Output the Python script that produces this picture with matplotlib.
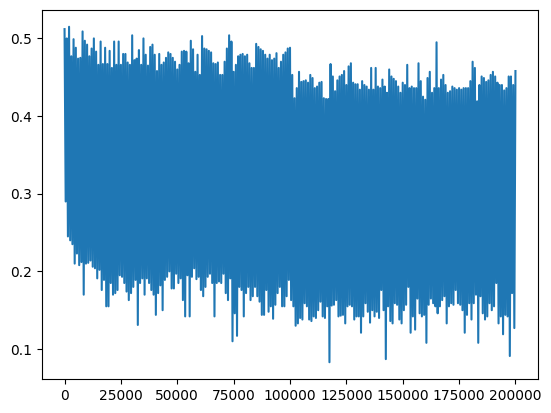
import numpy as np
import matplotlib
matplotlib.use("Agg")
import matplotlib.pyplot as plt

# upper and lower extremes of the noisy series, read every 1000 steps
upper = [
    0.512, 0.500, 0.515, 0.477, 0.499, 0.488, 0.474, 0.475, 0.509, 0.497,
    0.492, 0.477, 0.487, 0.500, 0.483, 0.466, 0.496, 0.467, 0.488, 0.467,
    0.484, 0.462, 0.496, 0.466, 0.496, 0.466, 0.480, 0.480, 0.469, 0.466,
    0.504, 0.472, 0.474, 0.485, 0.466, 0.500, 0.479, 0.465, 0.489, 0.492,
    0.479, 0.458, 0.480, 0.466, 0.469, 0.475, 0.482, 0.480, 0.475, 0.470,
    0.460, 0.466, 0.483, 0.484, 0.483, 0.468, 0.497, 0.486, 0.457, 0.479,
    0.453, 0.503, 0.487, 0.486, 0.484, 0.482, 0.468, 0.467, 0.469, 0.453,
    0.453, 0.470, 0.487, 0.504, 0.496, 0.457, 0.466, 0.477, 0.479, 0.480,
    0.477, 0.479, 0.468, 0.462, 0.462, 0.493, 0.489, 0.486, 0.484, 0.479,
    0.474, 0.479, 0.472, 0.474, 0.481, 0.462, 0.470, 0.479, 0.482, 0.487,
    0.488, 0.453, 0.423, 0.436, 0.457, 0.444, 0.445, 0.446, 0.443, 0.453,
    0.449, 0.436, 0.438, 0.443, 0.444, 0.423, 0.422, 0.422, 0.467, 0.451,
    0.432, 0.446, 0.451, 0.453, 0.458, 0.440, 0.464, 0.468, 0.443, 0.441,
    0.441, 0.434, 0.445, 0.440, 0.438, 0.434, 0.462, 0.434, 0.462, 0.438,
    0.436, 0.447, 0.438, 0.430, 0.460, 0.451, 0.448, 0.445, 0.438, 0.430,
    0.443, 0.440, 0.466, 0.436, 0.438, 0.436, 0.436, 0.468, 0.445, 0.425,
    0.421, 0.449, 0.457, 0.430, 0.436, 0.495, 0.436, 0.447, 0.453, 0.440,
    0.430, 0.432, 0.438, 0.436, 0.434, 0.436, 0.434, 0.436, 0.436, 0.436,
    0.445, 0.470, 0.462, 0.419, 0.440, 0.451, 0.449, 0.444, 0.446, 0.453,
    0.457, 0.451, 0.443, 0.440, 0.440, 0.433, 0.436, 0.451, 0.451, 0.440,
    0.458,
]
lower = [
    0.290, 0.245, 0.240, 0.235, 0.210, 0.223, 0.208, 0.212, 0.170, 0.210,
    0.211, 0.214, 0.206, 0.204, 0.191, 0.202, 0.176, 0.189, 0.155, 0.155,
    0.185, 0.170, 0.172, 0.176, 0.195, 0.193, 0.185, 0.174, 0.163, 0.172,
    0.180, 0.189, 0.131, 0.185, 0.191, 0.170, 0.191, 0.185, 0.176, 0.170,
    0.144, 0.172, 0.182, 0.150, 0.189, 0.193, 0.200, 0.178, 0.178, 0.197,
    0.185, 0.191, 0.163, 0.142, 0.195, 0.142, 0.193, 0.204, 0.190, 0.193,
    0.176, 0.168, 0.180, 0.193, 0.197, 0.185, 0.142, 0.185, 0.187, 0.185,
    0.197, 0.172, 0.163, 0.191, 0.110, 0.146, 0.117, 0.180, 0.176, 0.142,
    0.172, 0.180, 0.163, 0.168, 0.180, 0.168, 0.161, 0.144, 0.144, 0.176,
    0.148, 0.155, 0.139, 0.157, 0.172, 0.180, 0.155, 0.155, 0.168, 0.189,
    0.163, 0.155, 0.130, 0.133, 0.140, 0.138, 0.159, 0.155, 0.138, 0.136,
    0.142, 0.140, 0.150, 0.161, 0.142, 0.140, 0.155, 0.083, 0.156, 0.157,
    0.163, 0.142, 0.143, 0.144, 0.133, 0.155, 0.157, 0.155, 0.138, 0.142,
    0.142, 0.121, 0.142, 0.159, 0.148, 0.134, 0.150, 0.142, 0.148, 0.140,
    0.176, 0.150, 0.087, 0.155, 0.136, 0.133, 0.159, 0.157, 0.138, 0.133,
    0.150, 0.157, 0.180, 0.121, 0.142, 0.125, 0.165, 0.146, 0.142, 0.144,
    0.108, 0.157, 0.165, 0.159, 0.155, 0.146, 0.155, 0.163, 0.168, 0.133,
    0.155, 0.159, 0.157, 0.176, 0.159, 0.157, 0.150, 0.121, 0.144, 0.159,
    0.138, 0.159, 0.170, 0.108, 0.168, 0.146, 0.138, 0.142, 0.159, 0.150,
    0.155, 0.185, 0.133, 0.142, 0.119, 0.144, 0.142, 0.091, 0.172, 0.127,
]

# alternate high / low values so the line sweeps the whole band
values = np.empty(len(upper) + len(lower))
values[0::2] = upper
values[1::2] = lower
steps = np.arange(len(values)) * 500

fig = plt.figure(figsize=(5.51, 4.13), dpi=100)
ax = fig.add_axes([42 / 551, 34 / 413, 496 / 551, 369 / 413])
ax.plot(steps, values)

fig.savefig("out.png", dpi=100)
